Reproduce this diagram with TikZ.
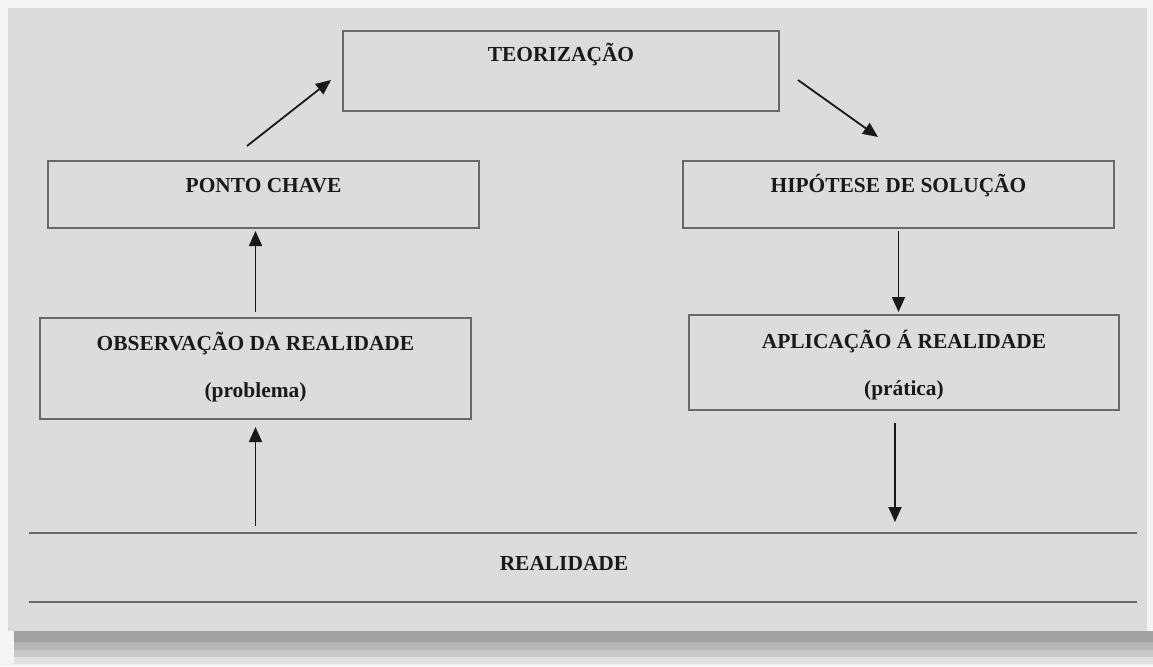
\documentclass[tikz,border=0pt]{standalone}
\usepackage{fontspec}
\setmainfont{Liberation Serif}
\usetikzlibrary{arrows.meta}

\definecolor{panelgray}{RGB}{220,220,220}
\definecolor{pagegray}{RGB}{244,244,244}
\definecolor{edgegray}{RGB}{105,105,105}
\newcommand{\stagelines}[2]{\begin{tabular}[t]{@{}c@{}}#1\\[10.9pt]#2\end{tabular}}

\tikzset{
  stagefont/.style={font=\fontsize{10.7}{12.8}\selectfont\bfseries, text=black!90},
  stage/.style={stagefont, draw=edgegray, line width=1pt, inner sep=0pt, minimum width=215.5pt, anchor=north},
  flow/.style={-{Triangle[length=7.5pt,width=6.5pt]}, line width=0.9pt, black!90},
  rule/.style={edgegray, line width=1.1pt},
}

\begin{document}
\begin{tikzpicture}[x=0.5pt, y=-0.5pt]
  \useasboundingbox (0,0) rectangle (1153,666);
  \fill[pagegray] (0,0) rectangle (1153,666);
  \fill[black!37] (14,631) rectangle (1153,642);
  \fill[black!29] (14,642) rectangle (1153,650);
  \fill[black!22] (14,650) rectangle (1153,657);
  \fill[black!12] (14,657) rectangle (1153,664);
  \fill[panelgray] (8,8) rectangle (1147,631);

  \node[stage, text height=15pt, text depth=25pt, minimum width=218pt] (teo) at (561,30) {TEORIZAÇÃO};
  \node[stage, text height=15.5pt, text depth=18pt] (chave) at (263.5,160) {PONTO CHAVE};
  \node[stage, text height=15.5pt, text depth=18pt] (hip) at (898.5,160) {HIPÓTESE DE SOLUÇÃO};
  \node[stage, text height=16pt, text depth=34.5pt] (obs) at (255.5,317)
    {\stagelines{OBSERVAÇÃO DA REALIDADE}{(problema)}};
  \node[stage, text height=16.5pt, text depth=31pt, minimum width=215pt] (apl) at (904,314)
    {\stagelines{APLICAÇÃO Á REALIDADE}{(prática)}};

  \coordinate (rtopW) at (29,533);
  \coordinate (rtopE) at (1137,533);
  \coordinate (rbotW) at (29,602);
  \coordinate (rbotE) at (1137,602);
  \draw[rule] (rtopW) -- (rtopE);
  \draw[rule] (rbotW) -- (rbotE);
  \node[stagefont, anchor=base] (real) at (564,570) {REALIDADE};

  \coordinate (aplout) at ([xshift=-4.5pt,yshift=-6pt]apl.south);
  \draw[flow] ([yshift=3.5pt]rtopW -| obs.south) -- ([yshift=-3.5pt]obs.south);
  \draw[flow] ([yshift=2.5pt]obs.north) -- ([yshift=-1pt]chave.south -| obs.north);
  \draw[flow] ([xshift=-8.25pt,yshift=7pt]chave.north) -- ([xshift=-5.5pt,yshift=-4.5pt]teo.west);
  \draw[flow] ([xshift=9pt,yshift=-4.5pt]teo.east) -- ([xshift=-10.25pt,yshift=11.5pt]hip.north);
  \draw[flow] ([yshift=-1pt]hip.south) -- ([yshift=1pt]apl.north -| hip.south);
  \draw[flow] (aplout) -- ([yshift=5.5pt]rtopW -| aplout);
\end{tikzpicture}
\end{document}
